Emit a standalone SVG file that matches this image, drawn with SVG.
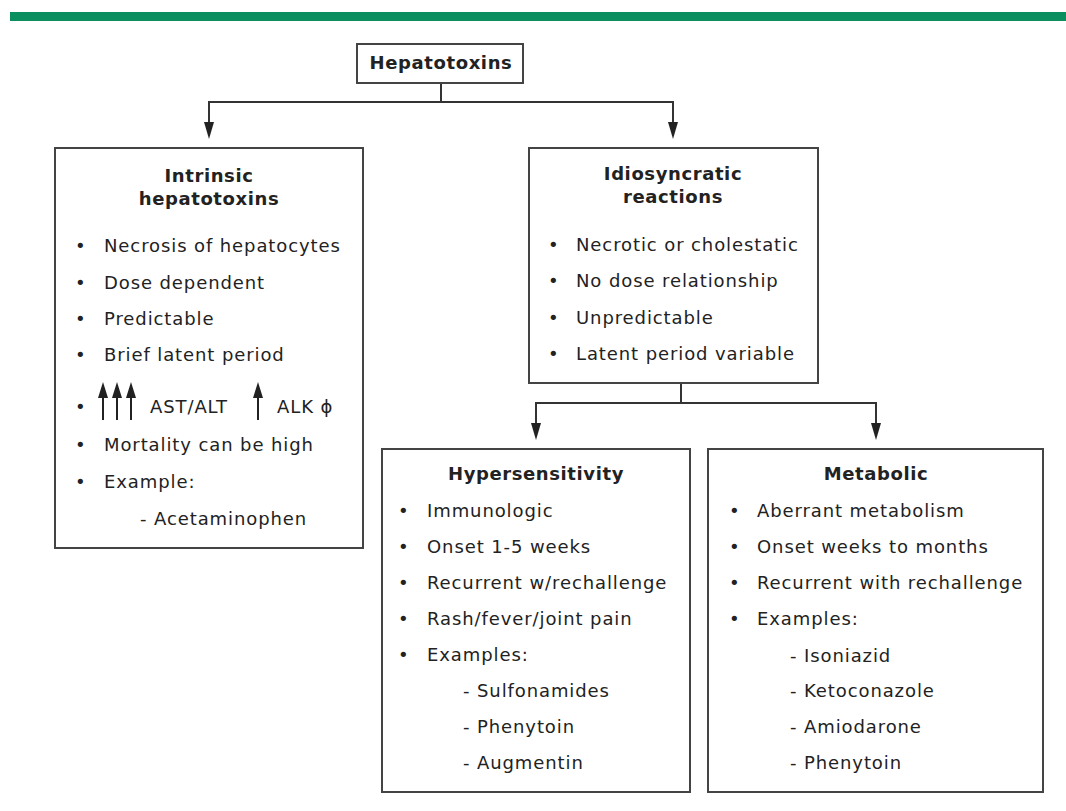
<svg xmlns="http://www.w3.org/2000/svg" width="1066" height="811" viewBox="0 0 1066 811">
<defs>
<style>
.box{fill:#fff;stroke:#444;stroke-width:2}
.t{font-family:"DejaVu Sans",Verdana,sans-serif;font-size:18px;letter-spacing:0.9px;fill:#222}
.b{font-weight:bold;text-anchor:middle;letter-spacing:0.6px}
.c{fill:none;stroke:#333;stroke-width:2}
.up{fill:#222}
</style>
</defs>
<rect width="1066" height="811" fill="#fff"/>
<rect x="10" y="12" width="1056" height="9" fill="#0b8f5f"/>

<g id="connectors">
<polyline class="c" points="441,83 441,102 209,102 209,122"/>
<polyline class="c" points="441,102 673,102 673,122"/>
<path d="M204,122 L214,122 L209,139 Z" fill="#222"/>
<path d="M668,122 L678,122 L673,139 Z" fill="#222"/>
<polyline class="c" points="681,383 681,403 536,403 536,423"/>
<polyline class="c" points="681,403 876,403 876,423"/>
<path d="M531,423 L541,423 L536,440 Z" fill="#222"/>
<path d="M871,423 L881,423 L876,440 Z" fill="#222"/>
</g>

<g id="hepatotoxins">
<rect class="box" x="357" y="44" width="166" height="39"/>
<text class="t b" x="441" y="69">Hepatotoxins</text>
</g>

<g id="intrinsic">
<rect class="box" x="55" y="148" width="308" height="400"/>
<text class="t b" x="209" y="182">Intrinsic</text>
<text class="t b" x="209" y="205">hepatotoxins</text>
<g class="t">
<text x="75" y="252">•</text><text x="104" y="252">Necrosis of hepatocytes</text>
<text x="75" y="289">•</text><text x="104" y="289">Dose dependent</text>
<text x="75" y="325">•</text><text x="104" y="325">Predictable</text>
<text x="75" y="361">•</text><text x="104" y="361">Brief latent period</text>
<text x="75" y="413">•</text>
<text x="150" y="413">AST/ALT</text>
<text x="277" y="413">ALK ϕ</text>
<text x="75" y="451">•</text><text x="104" y="451">Mortality can be high</text>
<text x="75" y="488">•</text><text x="104" y="488">Example:</text>
<text x="140" y="525">- Acetaminophen</text>
</g>
<g stroke="#222" stroke-width="2">
<line x1="103" y1="394" x2="103" y2="420"/>
<line x1="117" y1="394" x2="117" y2="420"/>
<line x1="131" y1="394" x2="131" y2="420"/>
<line x1="258" y1="394" x2="258" y2="420"/>
</g>
<path class="up" d="M103,382 L98,398 L108,398 Z M117,382 L112,398 L122,398 Z M131,382 L126,398 L136,398 Z M258,382 L253,398 L263,398 Z"/>
</g>

<g id="idiosyncratic">
<rect class="box" x="529" y="148" width="289" height="235"/>
<text class="t b" x="673" y="180">Idiosyncratic</text>
<text class="t b" x="673" y="203">reactions</text>
<g class="t">
<text x="548" y="251">•</text><text x="576" y="251">Necrotic or cholestatic</text>
<text x="548" y="287">•</text><text x="576" y="287">No dose relationship</text>
<text x="548" y="324">•</text><text x="576" y="324">Unpredictable</text>
<text x="548" y="360">•</text><text x="576" y="360">Latent period variable</text>
</g>
</g>

<g id="hypersensitivity">
<rect class="box" x="382" y="449" width="308" height="343"/>
<text class="t b" x="536" y="480">Hypersensitivity</text>
<g class="t">
<text x="398" y="517">•</text><text x="427" y="517">Immunologic</text>
<text x="398" y="553">•</text><text x="427" y="553">Onset 1-5 weeks</text>
<text x="398" y="589">•</text><text x="427" y="589">Recurrent w/rechallenge</text>
<text x="398" y="625">•</text><text x="427" y="625">Rash/fever/joint pain</text>
<text x="398" y="661">•</text><text x="427" y="661">Examples:</text>
<text x="463" y="697">- Sulfonamides</text>
<text x="463" y="733">- Phenytoin</text>
<text x="463" y="769">- Augmentin</text>
</g>
</g>

<g id="metabolic">
<rect class="box" x="708" y="449" width="335" height="343"/>
<text class="t b" x="876" y="480">Metabolic</text>
<g class="t">
<text x="729" y="517">•</text><text x="757" y="517">Aberrant metabolism</text>
<text x="729" y="553">•</text><text x="757" y="553">Onset weeks to months</text>
<text x="729" y="589">•</text><text x="757" y="589">Recurrent with rechallenge</text>
<text x="729" y="625">•</text><text x="757" y="625">Examples:</text>
<text x="790" y="662">- Isoniazid</text>
<text x="790" y="697">- Ketoconazole</text>
<text x="790" y="733">- Amiodarone</text>
<text x="790" y="769">- Phenytoin</text>
</g>
</g>
</svg>
